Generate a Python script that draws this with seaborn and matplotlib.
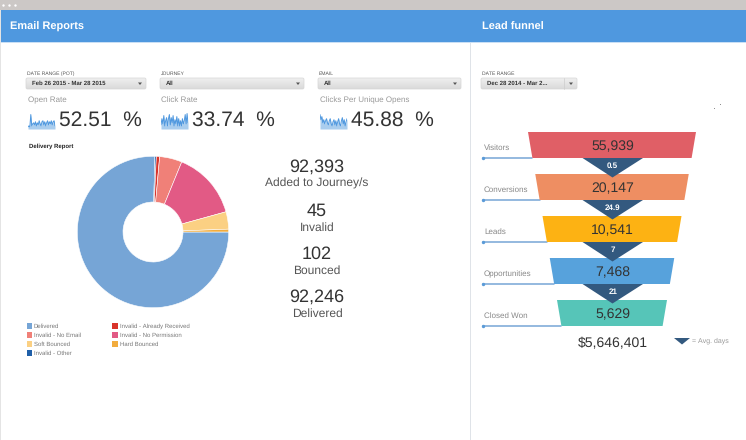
import matplotlib
matplotlib.use("Agg")
import matplotlib.pyplot as plt
from matplotlib.colors import LinearSegmentedColormap
from matplotlib.patches import FancyBboxPatch, Rectangle
import numpy as np
import pandas as pd
import seaborn as sns

W, H = 746, 440

# values
rate_names = ["Open Rate", "Click Rate", "Clicks Per Unique Opens"]
rate_values = ["52.51  %", "33.74  %", "45.88  %"]
spark_open = [2, 3, 2, 14, 3, 5, 6, 4, 7, 3, 6, 4, 8, 5, 3, 7, 8, 4, 7, 3, 6, 8, 4, 7, 5, 8, 4, 7, 8, 3]
spark_click = [4, 10, 5, 13, 3, 8, 11, 3, 10, 14, 4, 11, 6, 13, 3, 9, 5, 12, 3, 10, 3, 8, 3, 10, 5, 8, 14, 5, 15, 6]
spark_unique = [14, 9, 12, 6, 9, 5, 8, 10, 6, 4, 8, 10, 5, 3, 7, 9, 4, 8, 3, 7, 10, 5, 3, 8, 11, 5, 9, 3, 7, 10]

slice_names = ["Delivered", "Invalid - Other", "Invalid - Already Received", "Invalid - No Email",
               "Invalid - No Permission", "Soft Bounced", "Hard Bounced"]
slice_values = [75.4, 0.3, 0.7, 4.8, 14.5, 3.7, 0.6]
legend_order = ["Delivered", "Invalid - Already Received", "Invalid - No Email", "Invalid - No Permission",
                "Soft Bounced", "Hard Bounced", "Invalid - Other"]

stat_numbers = ["92,393", "45", "102", "92,246"]
stat_labels = ["Added to Journey/s", "Invalid", "Bounced", "Delivered"]

funnel_names = ["Visitors", "Conversions", "Leads", "Opportunities", "Closed Won"]
funnel_values = ["55,939", "20,147", "10,541", "7,468", "5,629"]
funnel_days = ["0.5", "24.9", "7", "21"]
funnel_total = "$5,646,401"

# colours
slice_colors = ["#76A5D6", "#1F5FA8", "#D9342B", "#F08078", "#E25A85", "#FBD083", "#F2AC3E"]
funnel_colors = ["#E05F66", "#EE8E62", "#FDB213", "#57A2DC", "#56C5B8"]
blue_head = "#4F98DF"
navy = "#33597F"
button_cmap = LinearSegmentedColormap.from_list("button", ["#EFEFEF", "#DADADA"])

sns.set_theme(style="white")
plt.rcParams["font.family"] = ["Liberation Sans", "DejaVu Sans"]
plt.rcParams["text.hinting"] = "no_hinting"
plt.rcParams["text.hinting_factor"] = 1

fig = plt.figure(figsize=(W / 100, H / 100), dpi=100)
ax = fig.add_axes([0, 0, 1, 1])
ax.set_xlim(0, W)
ax.set_ylim(H, 0)
ax.axis("off")


def inset(x, y, w, h):
    a = fig.add_axes([x / W, 1 - (y + h) / H, w / W, h / H])
    a.axis("off")
    return a


def dropdown(x, y, w, h, label, head, split=None):
    box = FancyBboxPatch((x + 1, y + 1), w - 2, h - 2, boxstyle="round,pad=1,rounding_size=1.5",
                         fc="none", ec="#D6D6D6", lw=0.5)
    ax.add_patch(box)
    grad = ax.imshow(np.linspace(0, 1, 12).reshape(-1, 1), extent=(x, x + w, y + h, y), aspect="auto",
                     cmap=button_cmap, zorder=0.5)
    grad.set_clip_path(box)
    ax.text(x + 1, y - 4, head, fontsize=3.3, color="#555555", va="center")
    ax.text(x + 6, y + h / 2, label, fontsize=4.4, color="#333333", va="center", fontweight="bold")
    xa = x + w - 6
    ax.fill([xa - 2, xa + 2, xa], [y + h / 2 - 1, y + h / 2 - 1, y + h / 2 + 1.5], color="#555555", lw=0)
    if split:
        ax.plot([x + split, x + split], [y, y + h], color="#CCCCCC", lw=0.5)


# window chrome
ax.add_patch(Rectangle((0, 0), W, 10.5, fc="#CCC8C6", lw=0))
ax.scatter([3, 9, 15], [5.5, 5.5, 5.5], s=3, color="white", lw=0)
ax.add_patch(Rectangle((1, 10.5), W, 31.5, fc=blue_head, lw=0))
ax.add_patch(Rectangle((0, 42), W, 1, fc="#C9DFF5", lw=0))
ax.add_patch(Rectangle((0, 10), 1, H, fc="#E4E4E4", lw=0))
ax.add_patch(Rectangle((470, 43), 1, H, fc="#DFE3E8", lw=0))
ax.text(10, 30, "Email Reports", color="white", fontsize=7.8, fontweight="bold", va="baseline")
ax.text(482.5, 30, "Lead funnel", color="white", fontsize=7.6, fontweight="bold", va="baseline")

# filters
dropdown(26, 78, 120, 11, "Feb 26 2015 - Mar 28 2015", "DATE RANGE (POT)")
dropdown(160, 78, 144, 11, "All", "JOURNEY")
dropdown(318, 78, 143, 11, "All", "EMAIL")
dropdown(481, 78, 96, 11, "Dec 28 2014 - Mar 2...", "DATE RANGE", split=83)

# rate tiles
spark_x = [28, 161, 320]
value_x = [59, 192.5, 351]
for i, vals in enumerate([spark_open, spark_click, spark_unique]):
    ax.text(spark_x[i], 100, rate_names[i], color="#999999", fontsize=5.7, va="center")
    ax.text(value_x[i], 120.5, rate_values[i], color="#333333", fontsize=15.2, va="center")
    sp = inset(spark_x[i], 113, 27, 16)
    df = pd.DataFrame({"t": np.arange(len(vals)), "v": vals})
    sp.fill_between(df["t"], df["v"], 0, color="#A9CDEE", lw=0)
    sns.lineplot(data=df, x="t", y="v", ax=sp, color="#4F98DF", lw=0.7)
    sp.set_xlim(0, len(vals) - 1)
    sp.set_ylim(0, 15.5)
    sp.axis("off")

# delivery donut
ax.text(29, 146, "Delivery Report", color="#222222", fontsize=4.6, fontweight="bold", va="center")
pie = inset(153 - 77, 232 - 77, 154, 154)
pie.pie(slice_values, colors=slice_colors, startangle=0, counterclock=False, radius=1,
        wedgeprops=dict(width=1 - 30 / 75.7, edgecolor="white", linewidth=0.4))
pie.set_xlim(-77 / 75.7, 77 / 75.7)
pie.set_ylim(-77 / 75.7, 77 / 75.7)

for i, name in enumerate(legend_order):
    col = i % 2
    row = i // 2
    sx = 26.5 + col * 85.5
    sy = 326 + row * 9
    ax.add_patch(Rectangle((sx, sy - 2.8), 5.8, 5.8, fc=slice_colors[slice_names.index(name)], lw=0))
    ax.text(sx + 7.5, sy, name, color="#777777", fontsize=4.4, va="center")

# big numbers
stat_y = [167, 211, 254, 297]
for y, num, lab in zip(stat_y, stat_numbers, stat_labels):
    ax.text(317, y, num, color="#333333", fontsize=12.9, ha="center", va="center")
    ax.text(317, y + 16.5, lab, color="#555555", fontsize=8.6, ha="center", va="center")

# funnel
cx = 612
seg_h = 26
for i, name in enumerate(funnel_names):
    top = 132 + i * 42
    half_top = 84 - i * 7.25
    half_bot = half_top - 4.4
    ax.fill([cx - half_top, cx + half_top, cx + half_bot, cx - half_bot],
            [top, top, top + seg_h, top + seg_h], color=funnel_colors[i], lw=0, zorder=2)
    ax.text(cx + 0.5, top + 15, funnel_values[i], color="#333333", fontsize=10.2, ha="center", va="center", zorder=4)
    ax.text(484, top + 16, name, color="#888888", fontsize=5.8, va="center")
    ax.plot([483, cx - half_bot], [top + seg_h + 0.3] * 2, color="#76A5D6", lw=1.1, zorder=1)
    ax.scatter([483], [top + seg_h + 0.3], s=6, color="#5B9BD8", lw=0, zorder=1)

for i, days in enumerate(funnel_days):
    top = 158 + i * 42
    ax.fill([cx - 29.5, cx + 31, cx + 0.5], [top, top, top + 19.5], color=navy, lw=0, zorder=3)
    ax.text(cx + 0.7, top + 8, days, color="white", fontsize=6, fontweight="bold", ha="center", va="center", zorder=5)

ax.text(612.5, 344, funnel_total, color="#333333", fontsize=10, ha="center", va="center")
ax.fill([674, 690, 682], [338, 338, 344.5], color=navy, lw=0)
ax.text(691.5, 341, "= Avg. days", color="#999999", fontsize=5.4, va="center")

# stray specks
ax.scatter([713.5, 720], [108.5, 104.5], s=0.5, color="#888888", lw=0)

fig.savefig("out.png", dpi=100)
